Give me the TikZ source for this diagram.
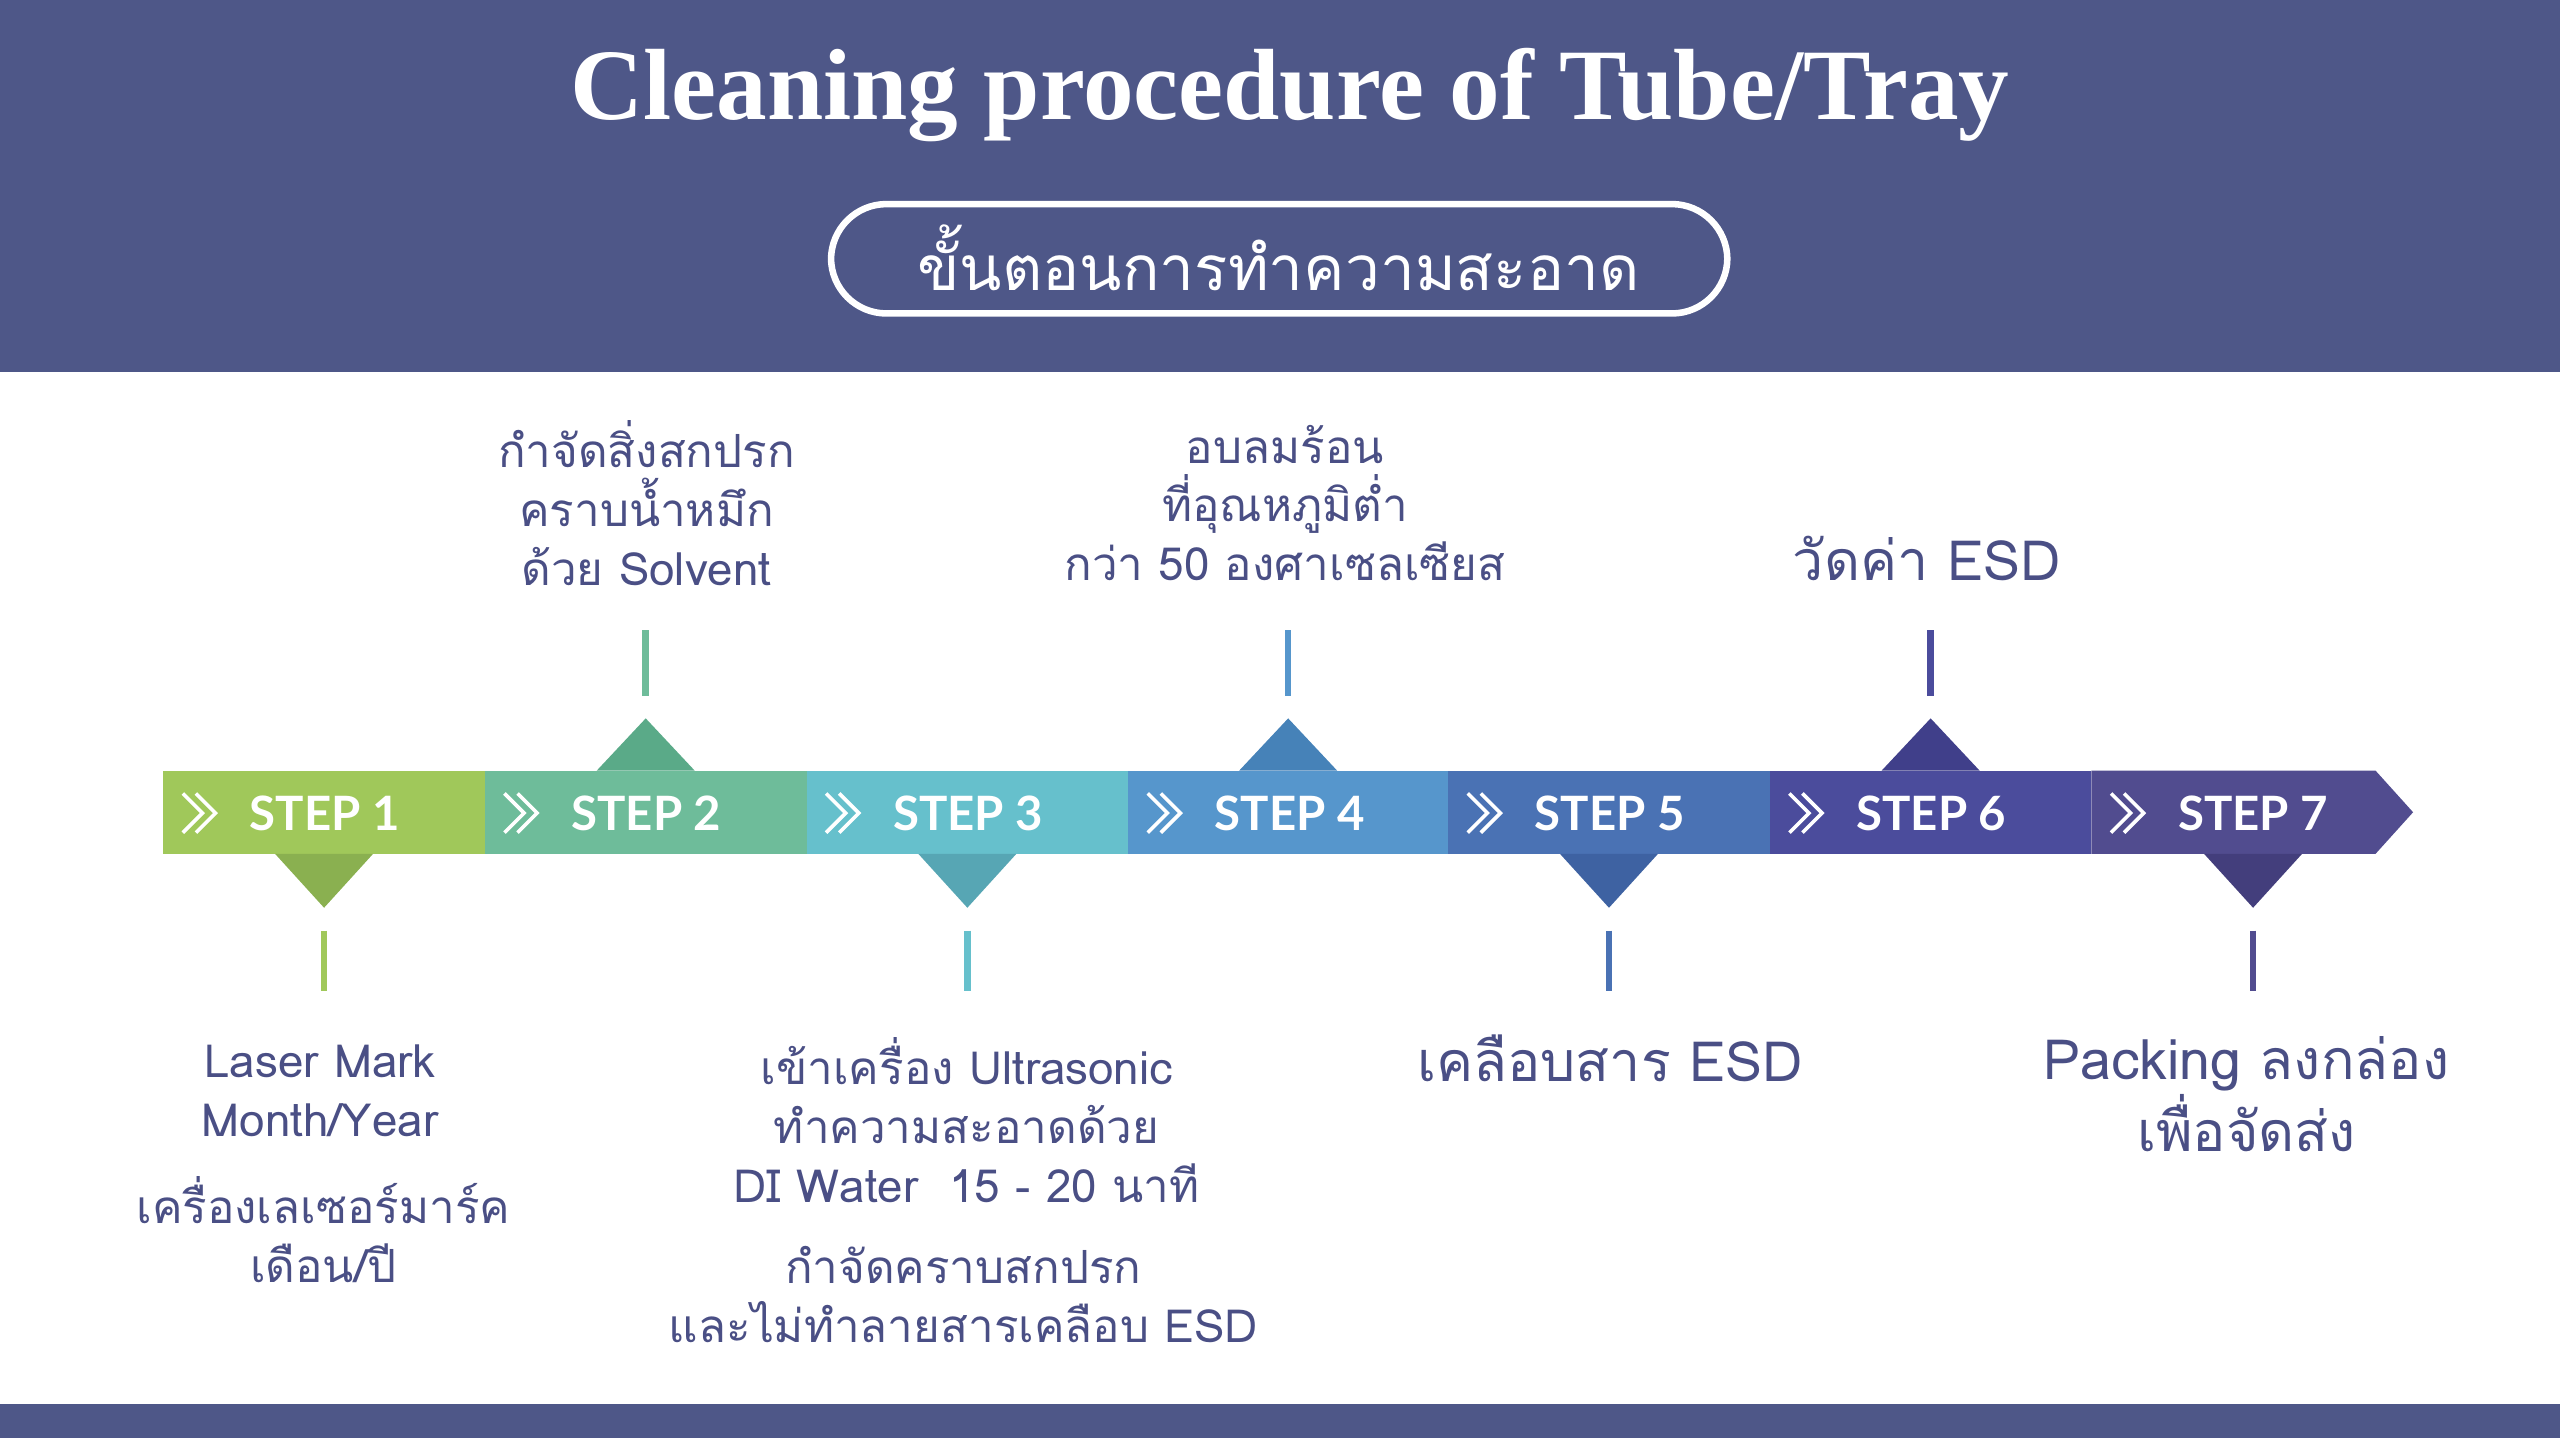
\documentclass[tikz,border=0pt]{standalone}
\usepackage{fontspec}
\setmainfont{Liberation Serif}
\newfontfamily\thai[Script=Thai]{Loma}
\newfontfamily\stepf{Lato}
\definecolor{band}{HTML}{4E5788}
\definecolor{txt}{HTML}{4A4F85}
\definecolor{cA}{HTML}{A0C85A}\definecolor{dA}{HTML}{8AB050}
\definecolor{cB}{HTML}{6EBC9A}\definecolor{dB}{HTML}{5AAA88}
\definecolor{cC}{HTML}{66C0CC}\definecolor{dC}{HTML}{57A6B4}
\definecolor{cD}{HTML}{5696CC}\definecolor{dD}{HTML}{4682B8}
\definecolor{cE}{HTML}{4A72B4}\definecolor{dE}{HTML}{3E62A2}
\definecolor{cF}{HTML}{4B4C9C}\definecolor{dF}{HTML}{403F8A}
\definecolor{cG}{HTML}{514C8F}\definecolor{dG}{HTML}{433E7C}
\begin{document}
\begin{tikzpicture}[x=0.5pt,y=-0.5pt,
  lbl/.style={text=txt,align=center,font=\thai\fontsize{14}{18}\selectfont},
  big/.style={text=txt,align=center,font=\thai\fontsize{17}{22}\selectfont},
  steptxt/.style={text=white,font=\stepf\bfseries\fontsize{14.5}{16}\selectfont,anchor=west},
  tick/.style={line width=2pt}]
\useasboundingbox (0,0) rectangle (1568,881);
\fill[band] (0,0) rectangle (1568,228);
\fill[band] (0,860) rectangle (1568,881);
\node[text=white,font=\bfseries\fontsize{31}{36}\selectfont] (title) at (790,58) {Cleaning procedure of Tube/Tray};
\draw[white,line width=2pt,rounded corners=17pt] (509,125) rectangle (1058,192);
\node[text=white,font=\thai\fontsize{19}{22}\selectfont] (sub) at (783,158) {ขั้นตอนการทำความสะอาด};
% bar segments
\def\segs{100/297/cA/dA/1/1,297/494/cB/dB/2/0,494/691/cC/dC/3/1,691/887/cD/dD/4/0,887/1084/cE/dE/5/1,1084/1281/cF/dF/6/0}
\foreach \a/\b/\c/\d/\n/\dn in \segs {
  \fill[\c] (\a,472) rectangle (\b,523);
  \pgfmathsetmacro\m{(\a+\b)/2}
  \ifnum\dn=1
    \fill[\d] (\m-30,523) -- (\m+30,523) -- (\m,556) -- cycle;
    \draw[\c,tick] (\m,570) -- (\m,607);
  \else
    \fill[\d] (\m-30,472) -- (\m+30,472) -- (\m,440) -- cycle;
    \draw[\c,tick] (\m,386) -- (\m,426);
  \fi
  \draw[white,line width=1.1pt] (\a+12,486)--(\a+24,498)--(\a+12,510) (\a+20,486)--(\a+32,498)--(\a+20,510);
  \node[steptxt] (s\n) at (\a+46,498) {STEP \n};
}
\fill[cG] (1281,472) -- (1455,472) -- (1478,497.5) -- (1455,523) -- (1281,523) -- cycle;
\fill[dG] (1350,523) -- (1410,523) -- (1380,556) -- cycle;
\draw[cG,tick] (1380,570) -- (1380,607);
\draw[white,line width=1.1pt] (1293,486)--(1305,498)--(1293,510) (1301,486)--(1313,498)--(1301,510);
\node[steptxt] (s7) at (1327,498) {STEP 7};
% labels
\node[lbl] (t2) at (396,308) {กำจัดสิ่งสกปรก\\คราบน้ำหมึก\\ด้วย Solvent};
\node[lbl] (t4) at (787,308) {อบลมร้อน\\ที่อุณหภูมิต่ำ\\กว่า 50 องศาเซลเซียส};
\node[big] (t6) at (1180,342) {วัดค่า ESD};
\node[lbl] (t1) at (196,668) {Laser Mark\\Month/Year};
\node[lbl] (t1b) at (198,753) {เครื่องเลเซอร์มาร์ค\\เดือน/ปี};
\node[lbl] (t3) at (592,686) {เข้าเครื่อง Ultrasonic\\ทำความสะอาดด้วย\\DI Water~ 15 - 20 นาที};
\node[lbl] (t3b) at (590,793) {กำจัดคราบสกปรก\\และไม่ทำลายสารเคลือบ ESD};
\node[big] (t5) at (986,648) {เคลือบสาร ESD};
\node[big] (t7) at (1376,670) {Packing ลงกล่อง\\เพื่อจัดส่ง};
\end{tikzpicture}
\end{document}
